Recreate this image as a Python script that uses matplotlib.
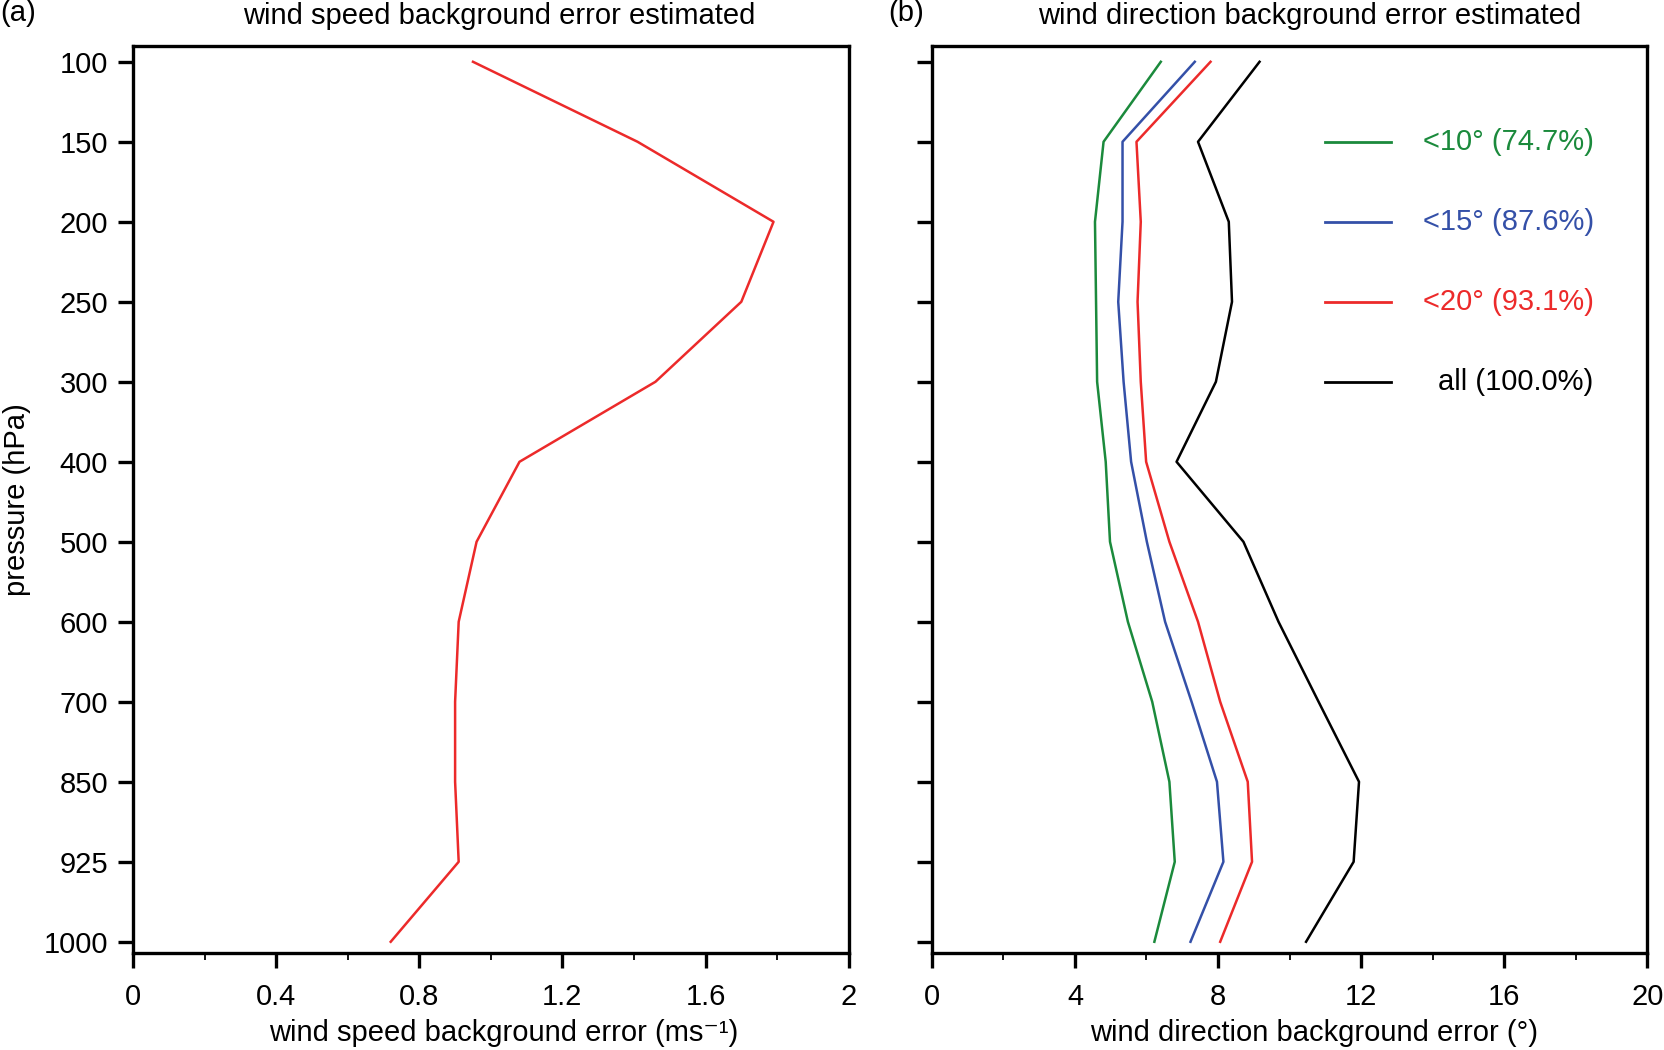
import numpy as np
import matplotlib
matplotlib.use("Agg")
import matplotlib.pyplot as plt
from matplotlib.ticker import FixedLocator

plt.rcParams['font.family'] = ['Liberation Sans', 'DejaVu Sans']

# pressure levels (hPa), equally spaced on the plot
levels = [100, 150, 200, 250, 300, 400, 500, 600, 700, 850, 925, 1000]

# (a) wind speed background error (m/s)
speed_err = [0.95, 1.41, 1.79, 1.70, 1.46, 1.08, 0.96, 0.91, 0.90, 0.90, 0.91, 0.72]

# (b) wind direction background error (deg)
dir_lt10 = [6.40, 4.80, 4.56, 4.59, 4.62, 4.86, 4.98, 5.48, 6.16, 6.64, 6.79, 6.22]
dir_lt15 = [7.35, 5.33, 5.33, 5.21, 5.36, 5.57, 6.01, 6.52, 7.26, 7.97, 8.15, 7.23]
dir_lt20 = [7.79, 5.72, 5.84, 5.75, 5.84, 5.99, 6.64, 7.44, 8.06, 8.83, 8.95, 8.06]
dir_all = [9.16, 7.44, 8.30, 8.39, 7.94, 6.84, 8.71, 9.69, 10.81, 11.94, 11.79, 10.46]

dir_series = [dir_lt10, dir_lt15, dir_lt20, dir_all]
dir_labels = ['<10° (74.7%)', '<15° (87.6%)', '<20° (93.1%)', 'all (100.0%)']
dir_colors = ['#1b8a3c', '#3450a8', '#ec2a2a', 'black']

speed_ticks = [0, 0.4, 0.8, 1.2, 1.6, 2]
speed_ticklabels = ['0', '0.4', '0.8', '1.2', '1.6', '2']
dir_ticks = [0, 4, 8, 12, 16, 20]
dir_ticklabels = ['0', '4', '8', '12', '16', '20']

ypos = np.arange(len(levels))

fig = plt.figure(figsize=(16.64, 10.5), dpi=100)
ax1 = fig.add_axes([0.080, 0.0924, 0.430, 0.864])
ax2 = fig.add_axes([0.560, 0.0924, 0.430, 0.864])

fs = 21


def style(ax, ticks, ticklabels, show_ylabels):
    ax.set_ylim(11.14, -0.2)
    ax.set_xlim(ticks[0], ticks[-1])
    ax.set_xticks(ticks)
    ax.set_xticklabels(ticklabels)
    half = (ticks[1] - ticks[0]) / 2
    ax.xaxis.set_minor_locator(FixedLocator([t + half for t in ticks[:-1]]))
    ax.set_yticks(ypos)
    if show_ylabels:
        ax.set_yticklabels([str(p) for p in levels])
    else:
        ax.set_yticklabels([])
    for s in ax.spines.values():
        s.set_linewidth(2.4)
    ax.tick_params(axis='both', which='major', direction='out', length=11,
                   width=2.4, labelsize=fs, pad=7)
    ax.tick_params(axis='x', which='major', pad=10.5)
    ax.tick_params(axis='x', which='minor', direction='out', length=5, width=1.3)


# panel (a)
ax1.plot(speed_err, ypos, color='#ec2a2a', lw=1.8)
style(ax1, speed_ticks, speed_ticklabels, True)
ax1.set_xlabel('wind speed background error (ms⁻¹)', fontsize=fs, labelpad=6, x=0.518)
ax1.set_ylabel('pressure (hPa)', fontsize=fs, labelpad=9)
ax1.set_title('wind speed background error estimated', fontsize=fs, pad=16, x=0.512)

# panel (b)
for vals, col in zip(dir_series, dir_colors):
    ax2.plot(vals, ypos, color=col, lw=1.8)
style(ax2, dir_ticks, dir_ticklabels, False)
ax2.set_xlabel('wind direction background error (°)', fontsize=fs, labelpad=6, x=0.534)
ax2.set_title('wind direction background error estimated', fontsize=fs, pad=16, x=0.528)

# legend drawn in the axes, rows aligned with the 150-300 hPa levels
tr = ax2.get_yaxis_transform()
for i, (lab, col) in enumerate(zip(dir_labels, dir_colors)):
    row = ypos[i + 1]
    ax2.plot([0.550, 0.642], [row, row], color=col, lw=2.0, transform=tr)
    ax2.text(0.925, row, lab, color=col, fontsize=fs, ha='right', va='center',
             transform=tr)

fig.text(0.0, 0.988, '(a)', fontsize=fs, ha='left', va='center')
fig.text(0.534, 0.988, '(b)', fontsize=fs, ha='left', va='center')

fig.savefig('out.png', dpi=100)
